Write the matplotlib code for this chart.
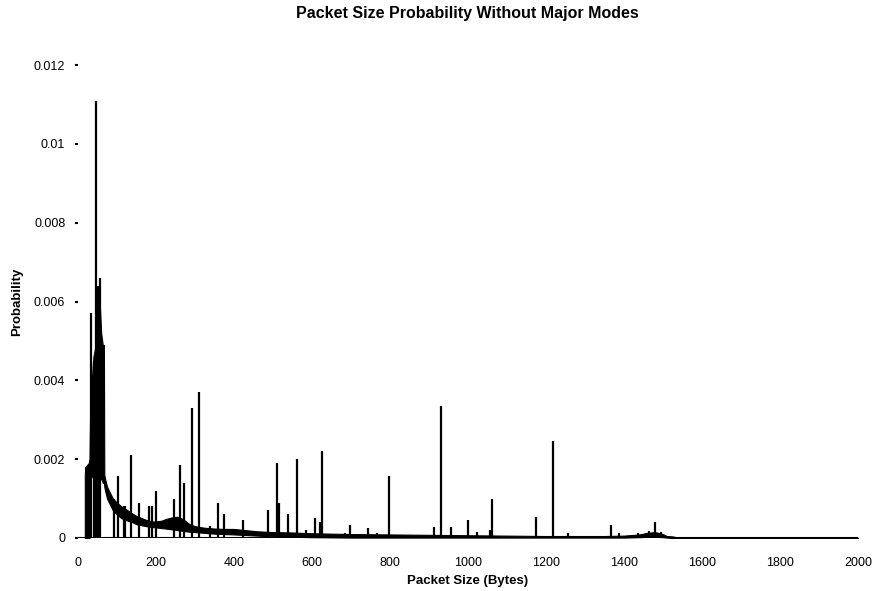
import matplotlib
matplotlib.use("Agg")
import matplotlib.pyplot as plt

plt.rcParams['font.family'] = ['Liberation Sans', 'DejaVu Sans']

# Noisy background band (lower / upper envelope of the dense trace)
band_sizes = [18, 19, 28, 30, 33, 36, 40, 44, 48, 52, 56, 60, 64, 67, 68, 70, 75, 80, 90,
              100, 112, 125, 140, 150, 165, 175, 190, 200, 215, 225, 240, 255, 270, 285,
              300, 325, 350, 375, 400, 420, 440, 460, 480, 500, 550, 600, 700, 800, 900,
              1000, 1100, 1200, 1300, 1350, 1400, 1440, 1460, 1480, 1500, 1510, 1525,
              1540, 2000]
band_low = [0, 0, 0, 0, 0.0015, 0.0016, 0.0015, 0.0016, 0.0015, 0.0016, 0.0015, 0.0015,
            0.0014, 0.0014, 0.0013, 0.0012, 0.0010, 0.0009, 0.0007,
            0.0006, 0.0005, 0.00045, 0.0004, 0.00035, 0.00032, 0.0003, 0.00028, 0.00027,
            0.00025, 0.00024, 0.00022, 0.0002, 0.00018, 0.00016,
            0.00015, 0.00013, 0.00011, 0.0001, 0.00009, 0.00008, 0.00007, 0.00006,
            0.00005, 0.00004, 0.00003, 0.00002, 0.00001, 0.00001, 0.00001,
            0.00001, 0.00001, 0.00001, 0.00001, 0.00001, 0.00001, 0.00002, 0.00003,
            0.00003, 0.00002, 0.00001, 0.0, 0.0, 0.0]
band_high = [0.0016, 0.0018, 0.0019, 0.0020, 0.0042, 0.0040, 0.0046, 0.0048, 0.0050,
             0.0055, 0.0060, 0.0052, 0.0049, 0.0049, 0.0016, 0.0015, 0.0013, 0.0012, 0.0010,
             0.0009, 0.0008, 0.00072, 0.00062, 0.00056, 0.0005, 0.00046, 0.00042, 0.00042,
             0.00044, 0.00048, 0.00052, 0.00054, 0.00048, 0.00036,
             0.0003, 0.00026, 0.00024, 0.00023, 0.00023, 0.00021, 0.00019, 0.00017,
             0.00016, 0.00015, 0.00014, 0.00012, 0.0001, 0.00009, 0.00008,
             0.00007, 0.00006, 0.00005, 0.00005, 0.00005, 0.00006, 0.00009, 0.00013,
             0.00015, 0.0001, 0.00005, 0.00004, 0.00001, 0.00001]

# Individual spikes
spike_sizes = [33, 41, 47, 51, 56, 92, 104, 118, 121, 136, 157, 182, 190, 200, 246, 261,
               272, 292, 312, 340, 359, 376, 423, 487, 512, 516, 540, 561, 584, 607, 620,
               627, 681, 686, 697, 745, 768, 799, 850, 914, 930, 958, 1001, 1024, 1056,
               1063, 1176, 1219, 1257, 1368, 1388, 1437, 1465, 1480, 1495]
spike_probs = [0.0057, 0.0045, 0.0111, 0.0064, 0.0066, 0.0010, 0.00157, 0.0008, 0.0008,
               0.0021, 0.0009, 0.0008, 0.0008, 0.0012, 0.0010, 0.00186,
               0.0014, 0.0033, 0.0037, 0.0003, 0.0009, 0.0006, 0.00046, 0.0007, 0.0019,
               0.0009, 0.0006, 0.0020, 0.0002, 0.0005, 0.0004,
               0.0022, 0.0001, 0.00013, 0.00033, 0.00025, 0.00013, 0.00158, 0.00005,
               0.00028, 0.00336, 0.00028, 0.00046, 0.00015, 0.0002,
               0.0010, 0.00053, 0.00247, 0.00013, 0.00033, 0.00013, 0.00013, 0.00018,
               0.0004, 0.00016]

x_ticks = [0, 200, 400, 600, 800, 1000, 1200, 1400, 1600, 1800, 2000]
y_ticks = [0, 0.002, 0.004, 0.006, 0.008, 0.01, 0.012]
y_tick_labels = ['0', '0.002', '0.004', '0.006', '0.008', '0.01', '0.012']

fig = plt.figure(figsize=(8.74, 5.91), dpi=100)
ax = fig.add_axes([0.089, 0.0897, 0.8925, 0.800])

ax.fill_between(band_sizes, band_low, band_high, facecolor='black',
                edgecolor='black', linewidth=0.8)
ax.vlines(spike_sizes, 0, spike_probs, colors='black', linewidth=1.6)
ax.plot([0, 2000], [0, 0], color='black', linewidth=1.5)

ax.set_xlim(0, 2000)
ax.set_ylim(0, 0.012)
ax.set_xticks(x_ticks)
ax.set_xticklabels([str(t) for t in x_ticks])
ax.set_yticks(y_ticks)
ax.set_yticklabels(y_tick_labels)

for s in ['top', 'right', 'left', 'bottom']:
    ax.spines[s].set_visible(False)

ax.tick_params(axis='y', length=2, width=1.5, pad=7, labelsize=9, color='black')
ax.tick_params(axis='x', length=0, pad=14, labelsize=9)

ax.set_title('Packet Size Probability Without Major Modes', fontsize=11.5,
             fontweight='bold', pad=34)
ax.set_xlabel('Packet Size (Bytes)', fontsize=9.5, fontweight='bold', labelpad=4)
ax.set_ylabel('Probability', fontsize=9.5, fontweight='bold', labelpad=8)

fig.savefig('out.png', dpi=100, facecolor='white')
